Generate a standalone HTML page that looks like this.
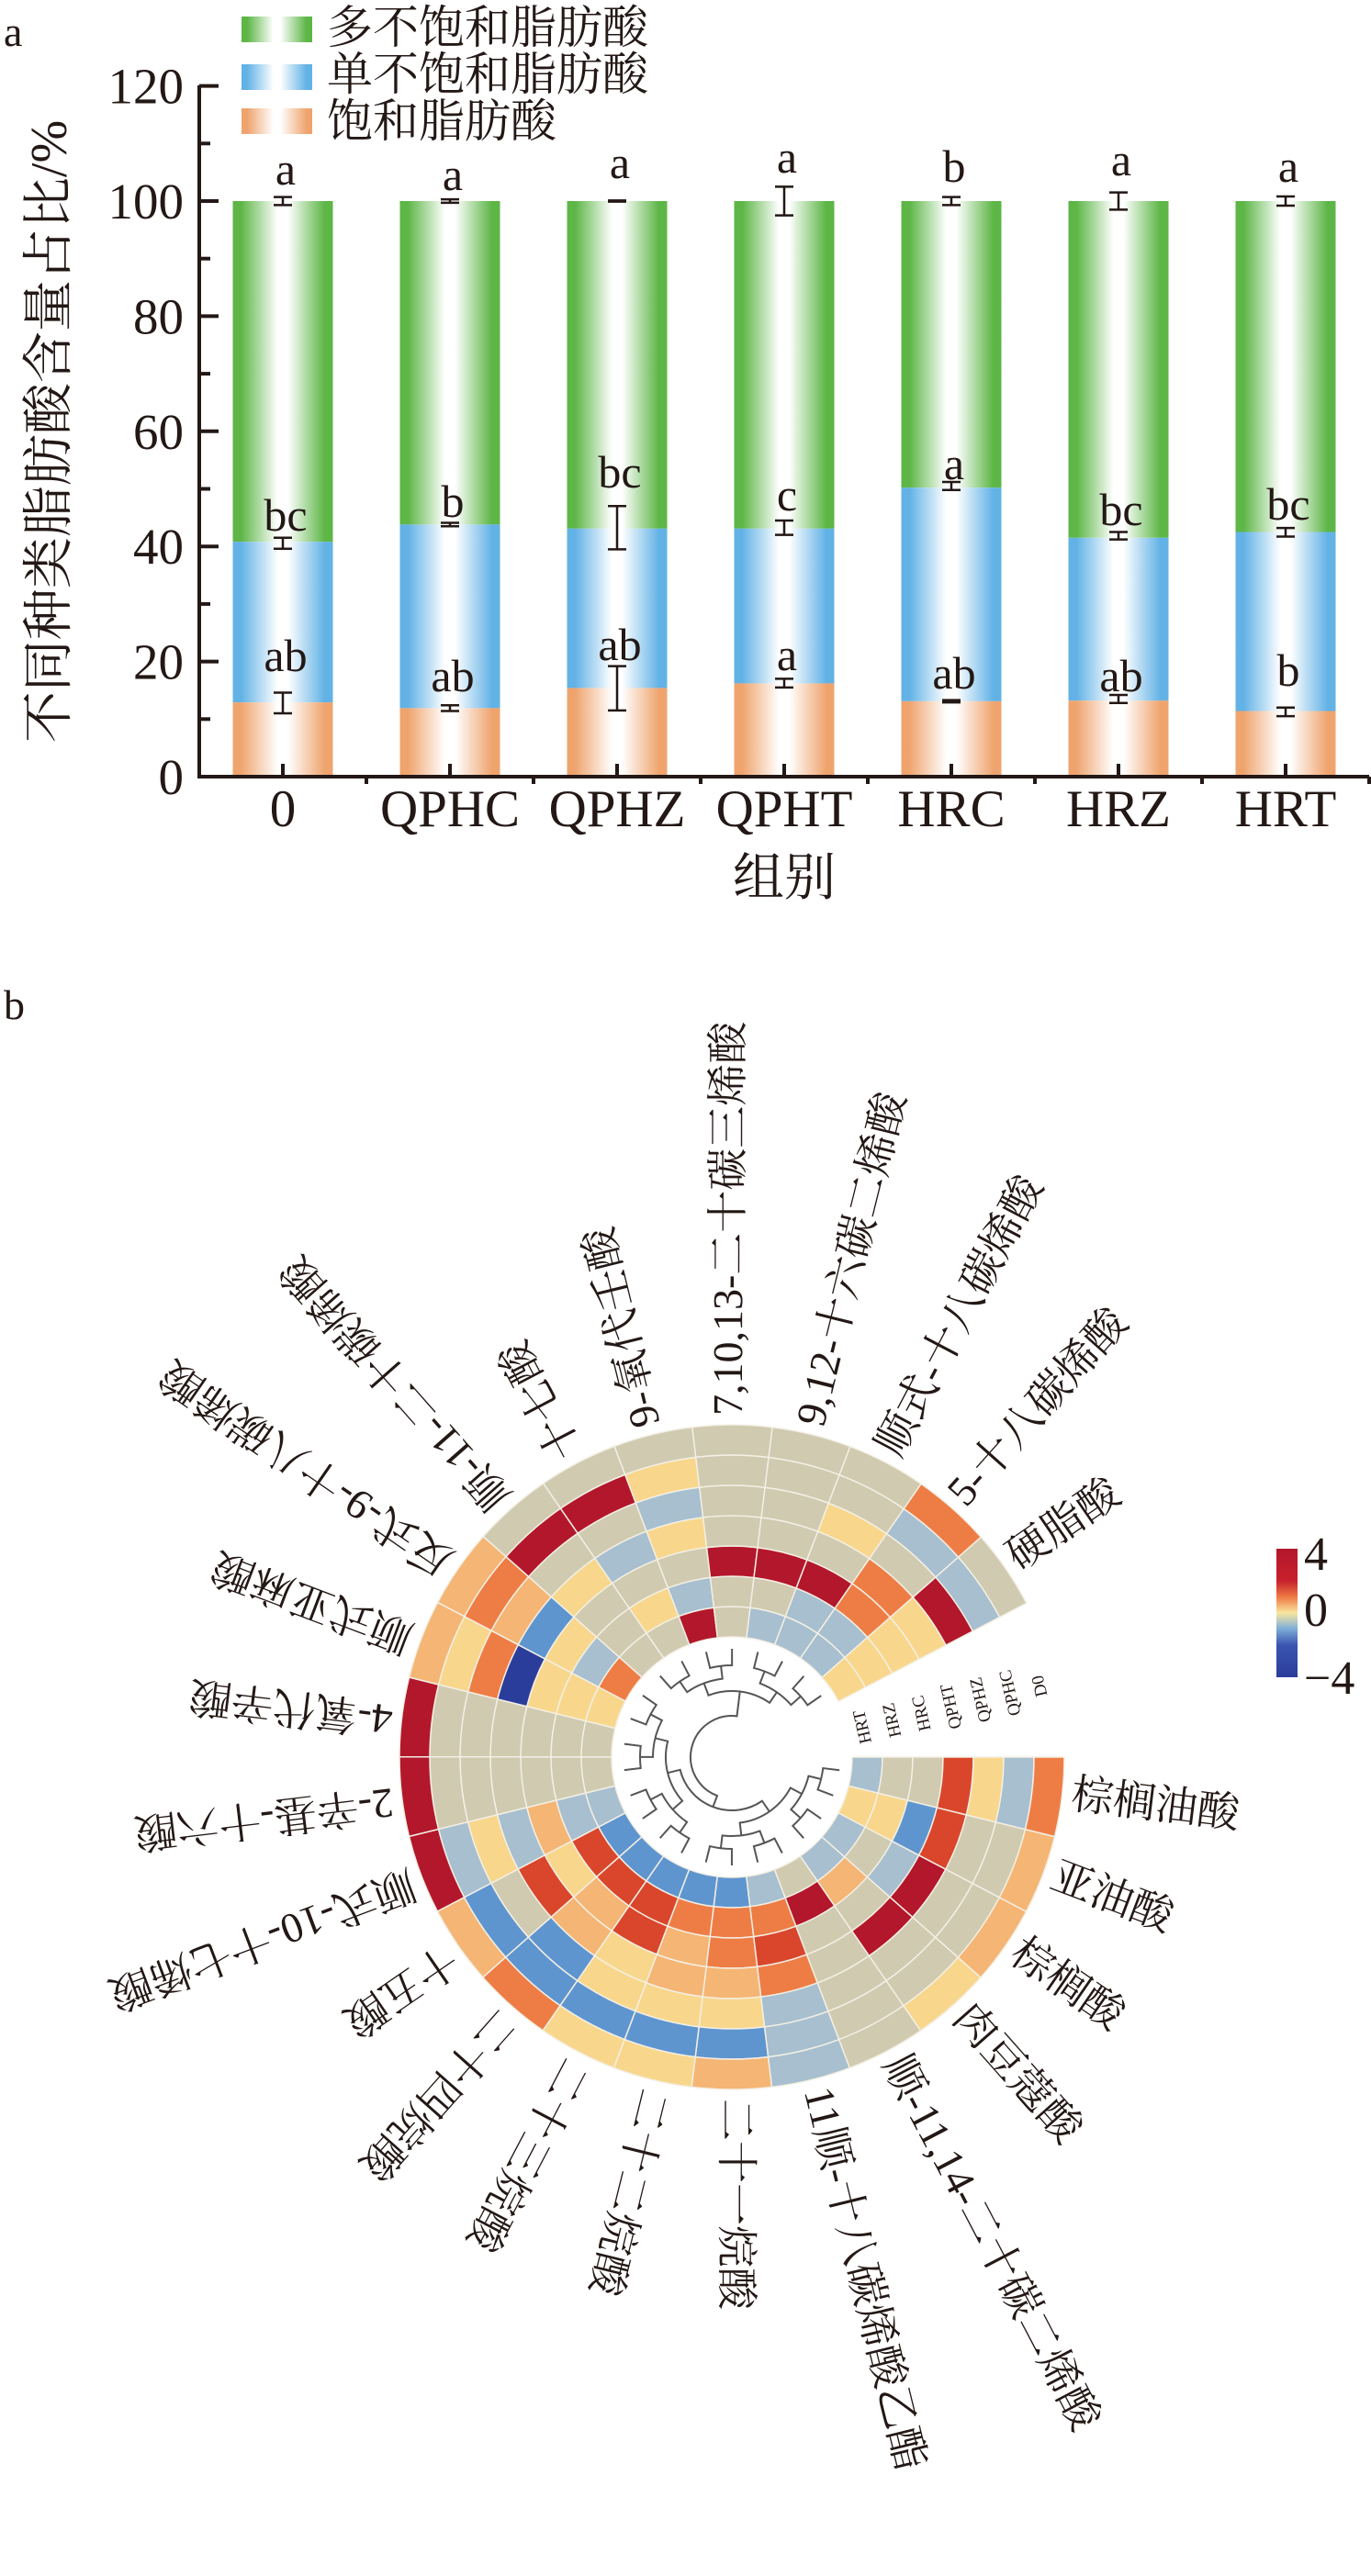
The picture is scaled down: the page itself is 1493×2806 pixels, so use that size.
<!DOCTYPE html>
<html><head><meta charset="utf-8">
<style>
html,body{margin:0;padding:0;background:#fff;}
svg{display:block;}
text{font-family:"Liberation Serif","Noto Serif CJK SC",serif;fill:#231815;}
</style></head>
<body>
<svg id="s" width="1493" height="2806" viewBox="0 0 1493 2806" xmlns="http://www.w3.org/2000/svg">
<defs>
<linearGradient id="gG" x1="0" x2="1" y1="0" y2="0"><stop offset="0" stop-color="#5db646"/><stop offset="0.08" stop-color="#5db646"/><stop offset="0.45" stop-color="#fff"/><stop offset="0.55" stop-color="#fff"/><stop offset="0.92" stop-color="#5db646"/><stop offset="1" stop-color="#5db646"/></linearGradient>
<linearGradient id="gB" x1="0" x2="1" y1="0" y2="0"><stop offset="0" stop-color="#62b2e6"/><stop offset="0.08" stop-color="#62b2e6"/><stop offset="0.45" stop-color="#fff"/><stop offset="0.55" stop-color="#fff"/><stop offset="0.92" stop-color="#62b2e6"/><stop offset="1" stop-color="#62b2e6"/></linearGradient>
<linearGradient id="gO" x1="0" x2="1" y1="0" y2="0"><stop offset="0" stop-color="#efa46e"/><stop offset="0.08" stop-color="#efa46e"/><stop offset="0.45" stop-color="#fff"/><stop offset="0.55" stop-color="#fff"/><stop offset="0.92" stop-color="#efa46e"/><stop offset="1" stop-color="#efa46e"/></linearGradient>
<linearGradient id="cb" x1="0" x2="0" y1="0" y2="1"><stop offset="0" stop-color="#b3172b"/><stop offset="0.25" stop-color="#c8202c"/><stop offset="0.38" stop-color="#ef7d45"/><stop offset="0.5" stop-color="#f8e6a0"/><stop offset="0.62" stop-color="#7fb0d8"/><stop offset="0.75" stop-color="#3a55b0"/><stop offset="1" stop-color="#2b3d9b"/></linearGradient>
</defs>
<g id="a"></g>
<g id="b"></g>
</svg>
<script>
var NS="http://www.w3.org/2000/svg";
function el(p,tag,attrs,txt){var e=document.createElementNS(NS,tag);for(var k in attrs)e.setAttribute(k,attrs[k]);if(txt!==undefined)e.textContent=txt;p.appendChild(e);return e;}
var A=document.getElementById('a');
// panel a
el(A,'text',{x:4,y:50,'font-size':46},'a');
var y0=846,k=6.27,ax=217;
function Y(v){return y0-v*k;}
// legend
var leg=[['gG','多不饱和脂肪酸',18,30],['gB','单不饱和脂肪酸',70,81],['gO','饱和脂肪酸',118,132]];
leg.forEach(function(l){el(A,'rect',{x:263,y:l[2],width:77,height:28,fill:'url(#'+l[0]+')'});el(A,'text',{x:356,y:l[3]+17,'font-size':50},l[1]);});
var cats=['0','QPHC','QPHZ','QPHT','HRC','HRZ','HRT'];
var sat=[12.9,11.9,15.4,16.2,13.1,13.2,11.4];
var mono=[40.8,43.8,43.1,43.1,50.2,41.5,42.5];
var eTop=[[99.3,100.7],[99.7,100.3],[99.9,100.1],[97.5,102.5],[99.3,100.7],[98.5,101.5],[99.2,100.8]];
var eMid=[[39.6,41.5],[43.5,44.1],[39.5,47],[42,44.5],[49.8,51.2],[41.2,42.5],[41.7,43.2]];
var eLow=[[11,14.6],[11.4,12.4],[11.5,19.2],[15.5,17],[12.9,13.3],[12.8,14.2],[10.5,12]];
var lt=[['a',188],['a',194],['a',181],['a',175],['b',185],['a',178],['a',185]];
var lm=[['bc',565],['b',550],['bc',518],['c',543],['a',509],['bc',559],['bc',553]];
var ll=[['ab',718],['ab',740],['ab',706],['a',717],['ab',737],['ab',740],['b',734]];
for(var i=0;i<7;i++){
 var c=217+91+182*i, x=c-54.5, w=109;
 el(A,'rect',{x:x,y:Y(100),width:w,height:Y(mono[i])-Y(100),fill:'url(#gG)'});
 el(A,'rect',{x:x,y:Y(mono[i]),width:w,height:Y(sat[i])-Y(mono[i]),fill:'url(#gB)'});
 el(A,'rect',{x:x,y:Y(sat[i]),width:w,height:Y(0)-Y(sat[i]),fill:'url(#gO)'});
 [eTop[i],eMid[i],eLow[i]].forEach(function(e){
  var ya=Y(e[0]),yb=Y(e[1]);
  el(A,'path',{d:'M'+c+' '+ya+'V'+yb+'M'+(c-10)+' '+ya+'H'+(c+10)+'M'+(c-10)+' '+yb+'H'+(c+10),stroke:'#231815','stroke-width':2.5,fill:'none'});
 });
 [lt[i],lm[i],ll[i]].forEach(function(l){el(A,'text',{x:c+3,y:l[1]+13,'font-size':50,'text-anchor':'middle'},l[0]);});
 el(A,'text',{x:c,y:900,'font-size':57,'text-anchor':'middle'},cats[i]);
}
// axes
el(A,'path',{d:'M'+ax+' 93V848M215 846H1491',stroke:'#231815','stroke-width':4,fill:'none'});
for(var v=0;v<=120;v+=10){var yy=Y(v);el(A,'path',{d:'M'+ax+' '+yy+'H'+(ax+(v%20==0?21:12)),stroke:'#231815','stroke-width':4});
 if(v%20==0)el(A,'text',{x:200,y:yy+19,'font-size':55,'text-anchor':'end'},String(v));}
for(var i=0;i<7;i++){var c=217+91+182*i;el(A,'path',{d:'M'+c+' 846V832',stroke:'#231815','stroke-width':4});
 var b=217+182*(i+1);el(A,'path',{d:'M'+b+' 846V854',stroke:'#231815','stroke-width':4});}
el(A,'text',{x:854,y:975,'font-size':56,'text-anchor':'middle'},'组别');
el(A,'text',{transform:'translate(72,470) rotate(-90)','font-size':56,'text-anchor':'middle'},'不同种类脂肪酸含量占比/%');

// panel b
var B=document.getElementById('b');
el(B,'text',{x:4,y:1110,'font-size':46},'b');
var cx=797,cy=1914,r0=131,rw=33,W=13.85;
var P={G:'#d0cab0',LB:'#a7bfcf',B:'#5f95cf',DB:'#2b3d9b',LY:'#f8d78c',LO:'#f5b574',O:'#ee7d45',R:'#d9462c',DR:'#b3172b'};
var D=[
['LB','G','G','R','LY','LB','O'],
['LY','LY','B','R','G','G','LO'],
['LB','G','LB','DR','G','G','LO'],
['LB','LO','G','DR','G','G','LY'],
['G','DR','G','G','G','G','G'],
['LB','O','R','O','LB','LB','LB'],
['B','O','O','LO','LY','B','LO'],
['B','O','LO','LO','LY','B','LY'],
['B','R','R','LY','LY','B','LY'],
['B','R','LO','LO','B','B','O'],
['B','R','LY','R','G','B','LO'],
['LB','LB','LO','LB','LY','LB','DR'],
['G','G','G','G','G','G','DR'],
['G','G','G','G','G','G','DR'],
['LY','LY','LY','DB','O','LY','LO'],
['O','LB','LY','B','LO','O','LO'],
['G','G','G','LY','G','DR','G'],
['G','LY','G','LB','G','DR','G'],
['DR','LB','G','LY','LB','LY','G'],
['G','G','DR','G','G','G','G'],
['LB','G','DR','G','G','G','G'],
['LB','LB','DR','G','LY','G','G'],
['LB','LB','O','O','G','LB','O'],
['LY','LY','LY','LY','DR','LB','G']];
function pt(r,a){var t=a*Math.PI/180;return [(cx+r*Math.cos(t)).toFixed(2),(cy+r*Math.sin(t)).toFixed(2)];}
for(var s=0;s<24;s++){var a1=s*W,a2=(s+1)*W;
 for(var j=0;j<7;j++){var ri=r0+j*rw,ro=ri+rw;
  var p1=pt(ri,a1),p2=pt(ro,a1),p3=pt(ro,a2),p4=pt(ri,a2);
  el(B,'path',{d:'M'+p1+'L'+p2+'A'+ro+' '+ro+' 0 0 1 '+p3+'L'+p4+'A'+ri+' '+ri+' 0 0 0 '+p1+'Z',fill:P[D[s][j]],stroke:'#f3efe4','stroke-width':1.5});
 }}
// dendrogram
var g=el(B,'g',{stroke:'#555','stroke-width':2,fill:'none'});
var nodes=[];for(var s=0;s<24;s++)nodes.push({a:(s+0.5)*W,r:118});
var levels=[100,86,72,58,45];
var lv=0;
while(nodes.length>1&&lv<levels.length){var nr=levels[lv],nn=[];
 for(var i=0;i<nodes.length;i+=2){
  if(i+1<nodes.length){var n1=nodes[i],n2=nodes[i+1];
   var q1=pt(n1.r,n1.a),q2=pt(nr,n1.a),q3=pt(nr,n2.a),q4=pt(n2.r,n2.a);
   el(g,'path',{d:'M'+q1+'L'+q2+'A'+nr+' '+nr+' 0 0 1 '+q3+'L'+q4});
   nn.push({a:(n1.a+n2.a)/2,r:nr});}
  else{nn.push(nodes[i]);}
 }
 nodes=nn;lv++;}
// join remaining
if(nodes.length>1){var ra=35;var qa=pt(ra,nodes[0].a),qb=pt(ra,nodes[nodes.length-1].a);
 nodes.forEach(function(n){el(g,'path',{d:'M'+pt(n.r,n.a)+'L'+pt(ra,n.a)});});
 el(g,'path',{d:'M'+qa+'A'+ra+' '+ra+' 0 1 1 '+qb});}
// ring labels in gap
var rl=['HRT','HRZ','HRC','QPHT','QPHZ','QPHC','D0'];
for(var j=0;j<7;j++){var rr=r0+j*rw+rw/2;var q=pt(rr,-13);
 el(B,'text',{transform:'translate('+q[0]+','+q[1]+') rotate(-103)','font-size':19,'font-family':'Liberation Sans, sans-serif','text-anchor':'middle','dominant-baseline':'middle'},rl[j]);}
// outer labels
var L=['棕榈油酸','亚油酸','棕榈酸','肉豆蔻酸','顺-11,14-二十碳二烯酸','11顺-十八碳烯酸乙酯','二十一烷酸','二十二烷酸','二十三烷酸','二十四烷酸','十五酸','顺式-10-十七烯酸','2-辛基-十六酸','4-氧代辛酸','顺式亚麻酸','反式-9-十八碳烯酸','顺-11-二十碳烯酸','十七酸','9-氧代壬酸','7,10,13-二十碳三烯酸','9,12-十六碳二烯酸','顺式-十八碳烯酸','5-十八碳烯酸','硬脂酸'];
for(var s=0;s<24;s++){var a=(s+0.5)*W;
 el(B,'text',{transform:'translate('+cx+','+cy+') rotate('+a.toFixed(2)+') translate(372,0)','font-size':46,'dominant-baseline':'middle'},L[s]);}
// colorbar
el(B,'rect',{x:1390,y:1687,width:23,height:140,fill:'url(#cb)'});
el(B,'text',{x:1420,y:1710,'font-size':52},'4');
el(B,'text',{x:1420,y:1771,'font-size':52},'0');
el(B,'text',{x:1420,y:1845,'font-size':52},'\u22124');
</script>
</body></html>
